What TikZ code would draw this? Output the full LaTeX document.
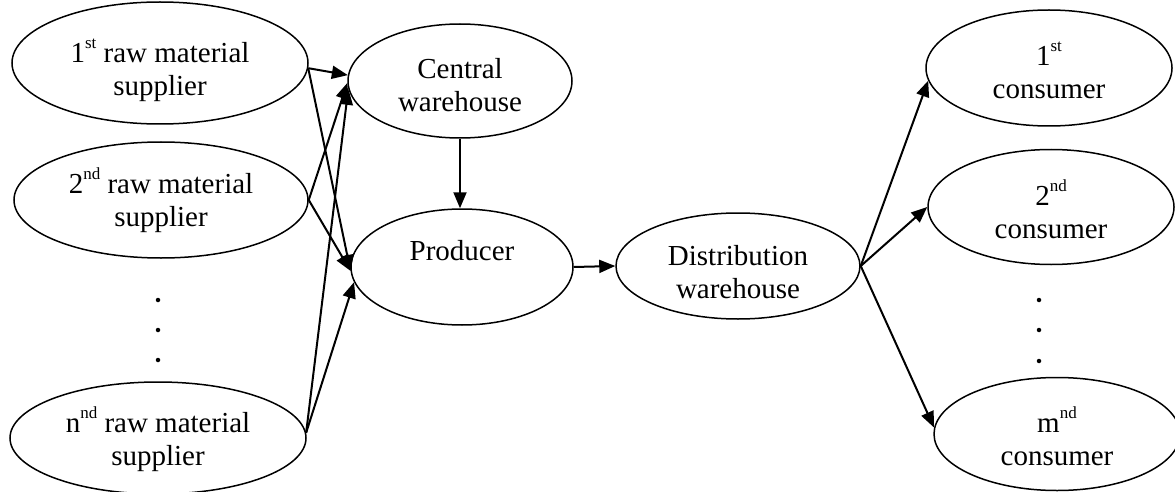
\documentclass[tikz,border=0pt]{standalone}
\usepackage{fontspec}
\setmainfont{Liberation Serif}
\usetikzlibrary{shapes.geometric,arrows.meta}
\newcommand\mysup[1]{\smash{\raisebox{14pt}{\fontsize{17}{17}\selectfont #1}}}
\newcommand\tp[1]{\rule{0pt}{#1pt}}
\tikzset{
  ell/.style={draw, ellipse, line width=1.5pt, inner sep=0pt, align=center,
    font=\fontsize{29}{33}\selectfont},
  arr/.style={line width=2pt, -{Triangle[length=16pt,width=13pt]}},
  dotmark/.style={circle, fill, inner sep=0pt, minimum size=4.5pt}
}
\begin{document}
\begin{tikzpicture}[x=1pt,y=-1pt]
\useasboundingbox (0,0) rectangle (1175,492);
% suppliers
\node[ell, minimum width=296pt, minimum height=122pt] (s1) at (160,63) {\tp{38}1\mysup{st} raw material\\supplier};
\node[ell, minimum width=294pt, minimum height=116pt] (s2) at (161,200) {\tp{26}2\mysup{nd} raw material\\supplier};
\node[ell, minimum width=296pt, minimum height=112pt] (sn) at (158,438) {\tp{28}n\mysup{nd} raw material\\supplier};
\node[dotmark] (ld1) at (158,300) {};
\node[dotmark] (ld2) at (158,330) {};
\node[dotmark] (ld3) at (158,360) {};
% centre
\node[ell, minimum width=224pt, minimum height=114pt] (cw) at (460,81) {\tp{28}Central\\warehouse};
\node[ell, minimum width=222pt, minimum height=116pt] (pr) at (462,267) {Producer\\\mbox{}};
\node[ell, minimum width=244pt, minimum height=106pt] (dw) at (738,266) {\tp{32}Distribution\\warehouse};
% consumers
\node[ell, minimum width=246pt, minimum height=116pt] (c1) at (1049,68) {\tp{28}1\mysup{st}\\consumer};
\node[ell, minimum width=246pt, minimum height=115pt] (c2) at (1051,207) {\tp{30}2\mysup{nd}\\consumer};
\node[ell, minimum width=246pt, minimum height=113pt] (cm) at (1057,434) {\tp{30}m\mysup{nd}\\consumer};
\node[dotmark] (rd1) at (1039,300) {};
\node[dotmark] (rd2) at (1039,330) {};
\node[dotmark] (rd3) at (1039,361) {};
% connectors
\draw[arr] (s1.-2) -- (cw.177);
\draw[arr] (s1.-2) -- (pr.182);
\draw[arr] (s2.east) -- (cw.181);
\draw[arr] (s2.east) -- (pr.182);
\draw[arr] (sn.2) -- (cw.184);
\draw[arr] (sn.2) -- (pr.188);
\draw[arr] (cw.south) -- (cw.south |- pr.north);
\draw[arr] (pr.east) -- (dw.west);
\draw[arr] (dw.east) -- (c1.186);
\draw[arr] (dw.east) -- (c2.west);
\draw[arr] (dw.east) -- (cm.177);
\end{tikzpicture}
\end{document}
